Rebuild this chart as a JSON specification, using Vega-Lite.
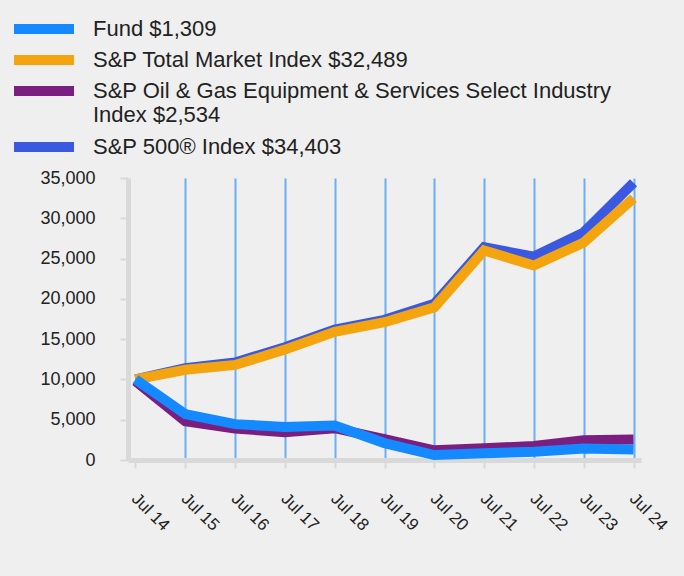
{
  "$schema": "https://vega.github.io/schema/vega-lite/v6.json",
  "width": 513,
  "height": 282,
  "autosize": "none",
  "padding": {"left": 128, "top": 178, "right": 43, "bottom": 116},
  "background": "#efefef",
  "config": {"view": {"stroke": null}, "font": "Liberation Sans"},
  "data": {"values": [
    {"date": "Jul 14", "series": "Fund $1,309", "value": 10000},
    {"date": "Jul 15", "series": "Fund $1,309", "value": 5700},
    {"date": "Jul 16", "series": "Fund $1,309", "value": 4450},
    {"date": "Jul 17", "series": "Fund $1,309", "value": 4100},
    {"date": "Jul 18", "series": "Fund $1,309", "value": 4280},
    {"date": "Jul 19", "series": "Fund $1,309", "value": 2100},
    {"date": "Jul 20", "series": "Fund $1,309", "value": 620},
    {"date": "Jul 21", "series": "Fund $1,309", "value": 850},
    {"date": "Jul 22", "series": "Fund $1,309", "value": 1030},
    {"date": "Jul 23", "series": "Fund $1,309", "value": 1420},
    {"date": "Jul 24", "series": "Fund $1,309", "value": 1309},
    {"date": "Jul 14", "series": "S&P Total Market Index $32,489", "value": 10000},
    {"date": "Jul 15", "series": "S&P Total Market Index $32,489", "value": 11200},
    {"date": "Jul 16", "series": "S&P Total Market Index $32,489", "value": 11800},
    {"date": "Jul 17", "series": "S&P Total Market Index $32,489", "value": 13700},
    {"date": "Jul 18", "series": "S&P Total Market Index $32,489", "value": 15900},
    {"date": "Jul 19", "series": "S&P Total Market Index $32,489", "value": 17100},
    {"date": "Jul 20", "series": "S&P Total Market Index $32,489", "value": 18950},
    {"date": "Jul 21", "series": "S&P Total Market Index $32,489", "value": 26000},
    {"date": "Jul 22", "series": "S&P Total Market Index $32,489", "value": 24150},
    {"date": "Jul 23", "series": "S&P Total Market Index $32,489", "value": 27000},
    {"date": "Jul 24", "series": "S&P Total Market Index $32,489", "value": 32489},
    {"date": "Jul 14", "series": "S&P Oil & Gas Equipment & Services Select Industry Index $2,534", "value": 9800},
    {"date": "Jul 15", "series": "S&P Oil & Gas Equipment & Services Select Industry Index $2,534", "value": 4800},
    {"date": "Jul 16", "series": "S&P Oil & Gas Equipment & Services Select Industry Index $2,534", "value": 3900},
    {"date": "Jul 17", "series": "S&P Oil & Gas Equipment & Services Select Industry Index $2,534", "value": 3450},
    {"date": "Jul 18", "series": "S&P Oil & Gas Equipment & Services Select Industry Index $2,534", "value": 3950},
    {"date": "Jul 19", "series": "S&P Oil & Gas Equipment & Services Select Industry Index $2,534", "value": 2600},
    {"date": "Jul 20", "series": "S&P Oil & Gas Equipment & Services Select Industry Index $2,534", "value": 1200},
    {"date": "Jul 21", "series": "S&P Oil & Gas Equipment & Services Select Industry Index $2,534", "value": 1450},
    {"date": "Jul 22", "series": "S&P Oil & Gas Equipment & Services Select Industry Index $2,534", "value": 1750},
    {"date": "Jul 23", "series": "S&P Oil & Gas Equipment & Services Select Industry Index $2,534", "value": 2450},
    {"date": "Jul 24", "series": "S&P Oil & Gas Equipment & Services Select Industry Index $2,534", "value": 2534},
    {"date": "Jul 14", "series": "S&P 500® Index $34,403", "value": 10000},
    {"date": "Jul 15", "series": "S&P 500® Index $34,403", "value": 11400},
    {"date": "Jul 16", "series": "S&P 500® Index $34,403", "value": 12100},
    {"date": "Jul 17", "series": "S&P 500® Index $34,403", "value": 14000},
    {"date": "Jul 18", "series": "S&P 500® Index $34,403", "value": 16200},
    {"date": "Jul 19", "series": "S&P 500® Index $34,403", "value": 17400},
    {"date": "Jul 20", "series": "S&P 500® Index $34,403", "value": 19400},
    {"date": "Jul 21", "series": "S&P 500® Index $34,403", "value": 26400},
    {"date": "Jul 22", "series": "S&P 500® Index $34,403", "value": 25250},
    {"date": "Jul 23", "series": "S&P 500® Index $34,403", "value": 28250},
    {"date": "Jul 24", "series": "S&P 500® Index $34,403", "value": 34403}
  ]},
  "encoding": {
    "x": {
      "field": "date", "type": "ordinal",
      "scale": {"type": "point", "padding": 0.15},
      "axis": {
        "title": null, "labelAngle": 45, "labelAlign": "left", "labelBaseline": "top",
        "labelFontSize": 17, "labelColor": "#222222", "labelPadding": 22, "labelOffset": 4,
        "domainColor": "#d9d9d9", "domainWidth": 5,
        "tickColor": "#d9d9d9", "tickWidth": 2, "tickSize": 8,
        "grid": true, "gridWidth": 2,
        "gridColor": {"condition": {"test": "datum.value == 'Jul 14'", "value": "transparent"}, "value": "#6aaef5"}
      }
    },
    "y": {
      "field": "value", "type": "quantitative",
      "scale": {"domain": [0, 35000], "nice": false},
      "axis": {
        "title": null, "values": [0, 5000, 10000, 15000, 20000, 25000, 30000, 35000],
        "format": ",.0f", "labelFontSize": 18, "labelColor": "#222222", "labelPadding": 25,
        "domainColor": "#d9d9d9", "domainWidth": 5,
        "tickColor": "#d9d9d9", "tickWidth": 2, "tickSize": 8, "grid": false
      }
    },
    "color": {
      "field": "series", "type": "nominal",
      "scale": {
        "domain": ["Fund $1,309", "S&P Total Market Index $32,489", "S&P Oil & Gas Equipment & Services Select Industry Index $2,534", "S&P 500® Index $34,403"],
        "range": ["#1589ff", "#f4a40f", "#7a1f80", "#3a58e0"]
      },
      "legend": {
        "orient": "none", "legendX": -95, "legendY": -160,
        "title": null, "direction": "vertical",
        "symbolType": "M-6,0H6", "symbolSize": 100, "symbolStrokeWidth": 10,
        "labelFontSize": 22, "labelColor": "#222222", "labelOffset": 38, "labelLimit": 0,
        "rowPadding": -9, "labelLineHeight": 23,
        "labelExpr": "indexof(datum.label, 'Oil') >= 0 ? ['S&P Oil & Gas Equipment & Services Select Industry', 'Index $2,534'] : datum.label",
        "encode": {
          "symbols": {"update": {"shape": {"signal": "indexof(datum.value, 'Oil') >= 0 ? 'M-6,0H6M0,5' : 'M-6,0H6'"}}}
        }
      }
    }
  },
  "layer": [
    {"transform": [{"filter": "datum.series == 'S&P 500® Index $34,403'"}], "mark": {"type": "line", "strokeWidth": 10}},
    {"transform": [{"filter": "datum.series == 'S&P Total Market Index $32,489'"}], "mark": {"type": "line", "strokeWidth": 10}},
    {"transform": [{"filter": "datum.series == 'S&P Oil & Gas Equipment & Services Select Industry Index $2,534'"}], "mark": {"type": "line", "strokeWidth": 10}},
    {"transform": [{"filter": "datum.series == 'Fund $1,309'"}], "mark": {"type": "line", "strokeWidth": 10}}
  ]
}
